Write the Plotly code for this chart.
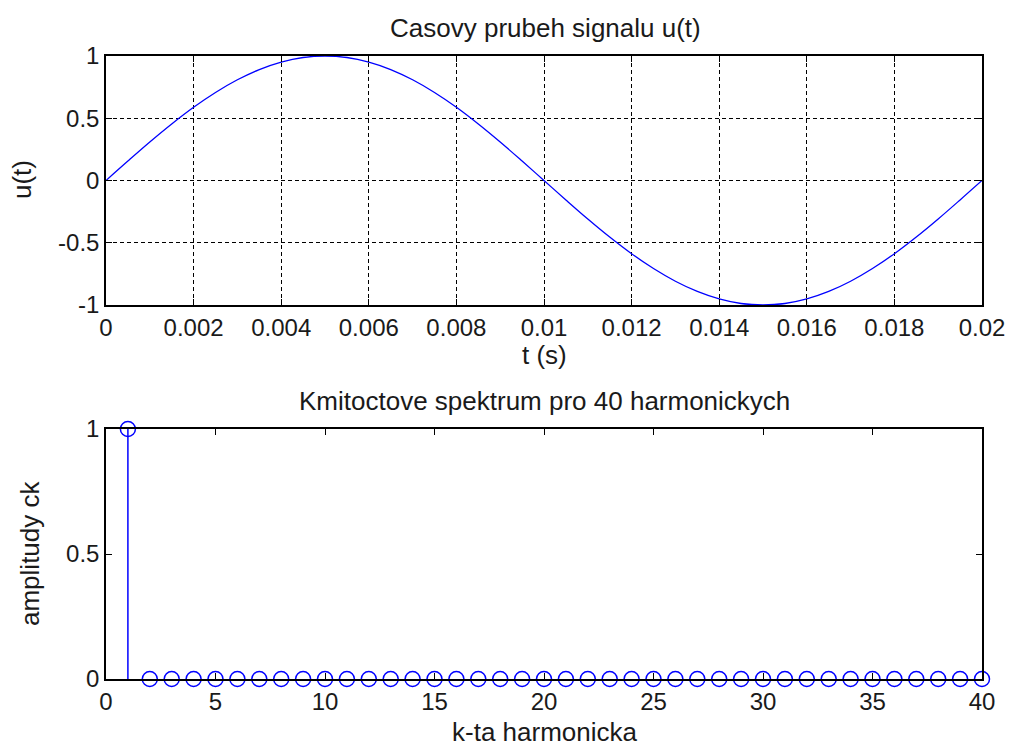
import plotly.graph_objects as go

# --- data ---
t_vals = [0.0000, 0.0005, 0.0010, 0.0015, 0.0020, 0.0025, 0.0030, 0.0035, 0.0040, 0.0045,
          0.0050, 0.0055, 0.0060, 0.0065, 0.0070, 0.0075, 0.0080, 0.0085, 0.0090, 0.0095,
          0.0100, 0.0105, 0.0110, 0.0115, 0.0120, 0.0125, 0.0130, 0.0135, 0.0140, 0.0145,
          0.0150, 0.0155, 0.0160, 0.0165, 0.0170, 0.0175, 0.0180, 0.0185, 0.0190, 0.0195, 0.0200]
u_vals = [0.000, 0.156, 0.309, 0.454, 0.588, 0.707, 0.809, 0.891, 0.951, 0.988,
          1.000, 0.988, 0.951, 0.891, 0.809, 0.707, 0.588, 0.454, 0.309, 0.156,
          0.000, -0.156, -0.309, -0.454, -0.588, -0.707, -0.809, -0.891, -0.951, -0.988,
          -1.000, -0.988, -0.951, -0.891, -0.809, -0.707, -0.588, -0.454, -0.309, -0.156, 0.000]

harmonics = list(range(1, 41))
amplitudes = [1.0] + [0.0] * 39

top_xticks = [0, 0.002, 0.004, 0.006, 0.008, 0.01, 0.012, 0.014, 0.016, 0.018, 0.02]
top_xlabels = ["0", "0.002", "0.004", "0.006", "0.008", "0.01", "0.012", "0.014", "0.016", "0.018", "0.02"]
top_yticks = [-1, -0.5, 0, 0.5, 1]
top_ylabels = ["-1", "-0.5", "0", "0.5", "1"]
bot_xticks = [0, 5, 10, 15, 20, 25, 30, 35, 40]
bot_yticks = [0, 0.5, 1]
bot_ylabels = ["0", "0.5", "1"]

W, H = 1009, 747
FONT = "Liberation Sans"
FS_TICK = 24
FS_TEXT = 26
BLUE = "#0000ff"
INK = "#1a1a1a"

def px_x(p):
    return p / W

def px_y(p):
    return 1 - p / H

fig = go.Figure()

fig.add_trace(go.Scatter(x=t_vals, y=u_vals, mode="lines", line=dict(color=BLUE, width=1.3, shape="spline"),
                         xaxis="x", yaxis="y", showlegend=False))

stem_x, stem_y = [], []
for k, a in zip(harmonics, amplitudes):
    stem_x += [k, k, None]
    stem_y += [0, a, None]
fig.add_trace(go.Scatter(x=stem_x, y=stem_y, mode="lines", line=dict(color=BLUE, width=1.5),
                         xaxis="x2", yaxis="y2", showlegend=False, cliponaxis=False))
fig.add_trace(go.Scatter(x=harmonics, y=amplitudes, mode="markers",
                         marker=dict(symbol="circle-open", size=15, color=BLUE, line=dict(width=1.5, color=BLUE)),
                         xaxis="x2", yaxis="y2", showlegend=False, cliponaxis=False))

axis_common = dict(showline=True, linecolor="black", linewidth=1.5, mirror="ticks", ticks="inside",
                   ticklen=6, tickcolor="black", tickwidth=1.2, zeroline=False, automargin=False,
                   tickfont=dict(family=FONT, size=FS_TICK, color=INK))

xd = [px_x(106), px_x(982)]
fig.update_layout(
    width=W, height=H, margin=dict(l=0, r=0, t=0, b=0, pad=0), autosize=False,
    paper_bgcolor="white", plot_bgcolor="white",
    font=dict(family=FONT, size=FS_TEXT, color=INK),
    xaxis=dict(domain=xd, anchor="y", range=[0, 0.02], tickvals=top_xticks, ticktext=top_xlabels,
               showgrid=True, gridcolor="black", griddash="4px,3px", gridwidth=1, **axis_common),
    yaxis=dict(domain=[px_y(305), px_y(56)], anchor="x", range=[-1, 1], tickvals=top_yticks, ticktext=top_ylabels,
               showgrid=True, gridcolor="black", griddash="4px,3px", gridwidth=1, **axis_common),
    xaxis2=dict(domain=xd, anchor="y2", range=[0, 40], tickvals=bot_xticks, showgrid=False, **axis_common),
    yaxis2=dict(domain=[px_y(679), px_y(429)], anchor="x2", range=[0, 1], tickvals=bot_yticks, ticktext=bot_ylabels,
                showgrid=False, **axis_common),
)

def label(text, x, y, angle=0):
    fig.add_annotation(text=text, x=px_x(x), y=px_y(y), xref="paper", yref="paper", showarrow=False,
                       textangle=angle, font=dict(family=FONT, size=FS_TEXT, color=INK),
                       xanchor="center", yanchor="middle")

label("Casovy prubeh signalu u(t)", 545, 28)
label("t (s)", 544, 355)
label("u(t)", 22, 180, -90)
label("Kmitoctove spektrum pro 40 harmonickych", 544, 401)
label("k-ta harmonicka", 544, 732)
label("amplitudy ck", 30, 554, -90)

fig.write_html("out.html", config={"displayModeBar": False},
               post_script="document.body.style.margin='0';document.body.style.overflow='hidden';")
